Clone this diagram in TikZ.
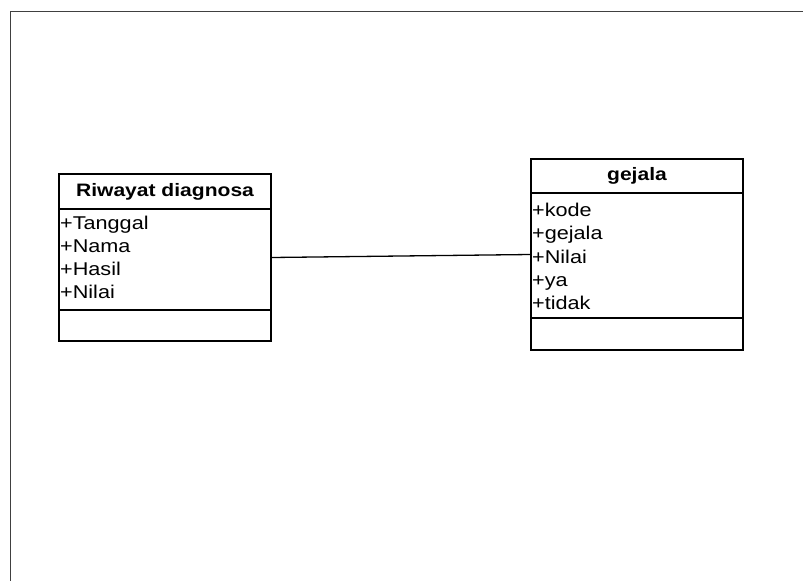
\documentclass[tikz,border=0pt]{standalone}
\usepackage{fontspec}
\setmainfont{Liberation Sans}[FakeStretch=1.17]
\usetikzlibrary{positioning}

\begin{document}
\begin{tikzpicture}[x=1pt,y=-1pt,line width=1.3pt,
  classbox/.style={draw,rectangle,inner sep=0pt,minimum width=212pt},
  classtitle/.style={font=\fontsize{18}{21}\selectfont\bfseries,inner sep=0pt},
  attr/.style={font=\fontsize{18.5}{21}\selectfont,anchor=base west,inner sep=0pt}]
\useasboundingbox (0,0) rectangle (803,581);
% frame
\draw[black!75,line width=1pt] (803,11) -- (10,11) -- (10,581);

% class Riwayat diagnosa
\node (riwayat) [classbox, minimum height=167pt] at (165,257.5) {};
\node (riwayattitle) [classtitle] at (165,191.5) {Riwayat diagnosa};
\draw (riwayat.west |- 0,209) -- (riwayat.east |- 0,209);
\draw (riwayat.west |- 0,310) -- (riwayat.east |- 0,310);
\node (tanggal) [attr] at (59.5,229) {+Tanggal};
\node (nama) [attr] at (59.5,252.3) {+Nama};
\node (hasil) [attr] at (59.5,275.5) {+Hasil};
\node (nilaia) [attr] at (59.5,298.8) {+Nilai};

% class gejala
\node (gejala) [classbox, minimum height=191pt] at (637,254.5) {};
\node (gejalatitle) [classtitle] at (637,176) {gejala};
\draw (gejala.west |- 0,193) -- (gejala.east |- 0,193);
\draw (gejala.west |- 0,318) -- (gejala.east |- 0,318);
\node (kode) [attr] at (531.5,216.7) {+kode};
\node (gejalaattr) [attr] at (531.5,239.9) {+gejala};
\node (nilaib) [attr] at (531.5,263.1) {+Nilai};
\node (ya) [attr] at (531.5,286.3) {+ya};
\node (tidak) [attr] at (531.5,309.5) {+tidak};

\draw (riwayat.east) -- (gejala.west);
\end{tikzpicture}
\end{document}
